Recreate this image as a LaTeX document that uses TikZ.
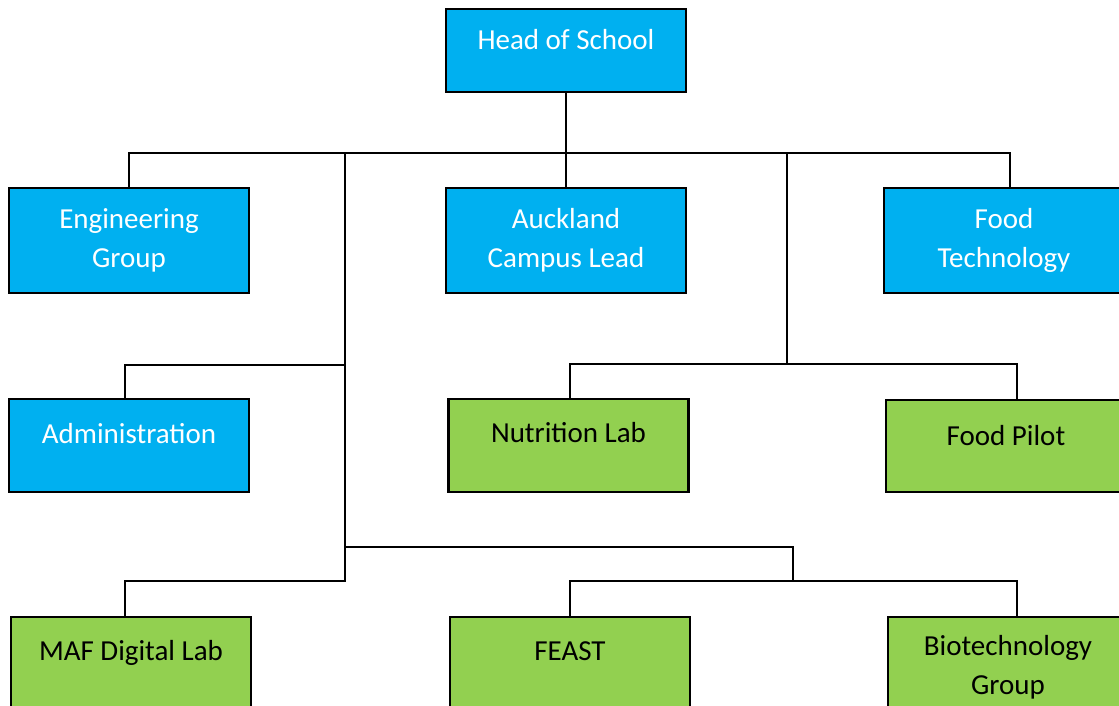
\documentclass[tikz,border=0pt]{standalone}
\usepackage{fontspec}
\setmainfont{Carlito}
\definecolor{unitblue}{HTML}{00B0F0}
\definecolor{labgreen}{HTML}{92D050}
\tikzset{
every picture/.style={
line width=1.1pt
},
unit/.style={draw=black, line width=1.6pt, minimum width=4.8cm, inner sep=0pt, align=center, font=\fontsize{16.5}{22}\selectfont},
blueunit/.style={unit, fill=unitblue, text=white},
greenunit/.style={unit, fill=labgreen, text=black}
}

\begin{document}
\begin{tikzpicture}[x=0.02cm, y=-0.02cm]
\clip (0,0) rectangle (1119,706);

\node[blueunit, text height=0.82cm, text depth=0.84cm] (head) at (566,50.5) {Head of School};
\node[blueunit, minimum height=2.1cm] (eng) at (129,240.5) {Engineering\\Group};
\node[blueunit, minimum height=2.1cm] (auck) at (566,240.5) {Auckland\\Campus Lead};
\node[blueunit, minimum height=2.1cm] (foodtech) at (1004,240.5) {Food\\Technology};
\node[blueunit, text height=0.88cm, text depth=0.98cm] (admin) at (129,445.5) {Administration};
\node[greenunit, text height=0.86cm, text depth=1.0cm] (nutr) at (568.5,445.5) {Nutrition Lab};
\node[greenunit, text height=0.9cm, text depth=0.94cm] (foodpilot) at (1006,446) {Food Pilot};
\node[greenunit, text height=0.86cm, text depth=1.14cm] (maf) at (131,667) {MAF Digital Lab};
\node[greenunit, text height=0.86cm, text depth=1.14cm] (feast) at (570,667) {FEAST};
\node[greenunit, minimum height=2.0cm] (bio) at (1008,667) {Biotechnology\\Group};

% joints of the connector lines
\coordinate (trunkL) at (345,154);
\coordinate (trunkLend) at (345,581);
\coordinate (adminjoin) at (345,365);
\coordinate (trunkR) at (787,154);
\coordinate (trunkRend) at (787,365);
\coordinate (fork) at (345,547);
\coordinate (forkdrop) at (793,581);

\draw (head) -- (auck);
\draw (eng.north) -- ++(0,-34) -| ([xshift=0.12cm]foodtech.north);
\draw (trunkL) -- (trunkLend) -| ([xshift=-0.12cm]maf.north);
\draw (adminjoin) -| ([xshift=-0.08cm]admin.north);
\draw (trunkR) -- (trunkRend);
\draw ([xshift=0.03cm]nutr.north) -- ++(0,-34) -| ([xshift=0.22cm]foodpilot.north);
\draw (fork) -| (forkdrop);
\draw (feast.north) |- (forkdrop) -| ([xshift=0.18cm]bio.north);
\end{tikzpicture}
\end{document}
